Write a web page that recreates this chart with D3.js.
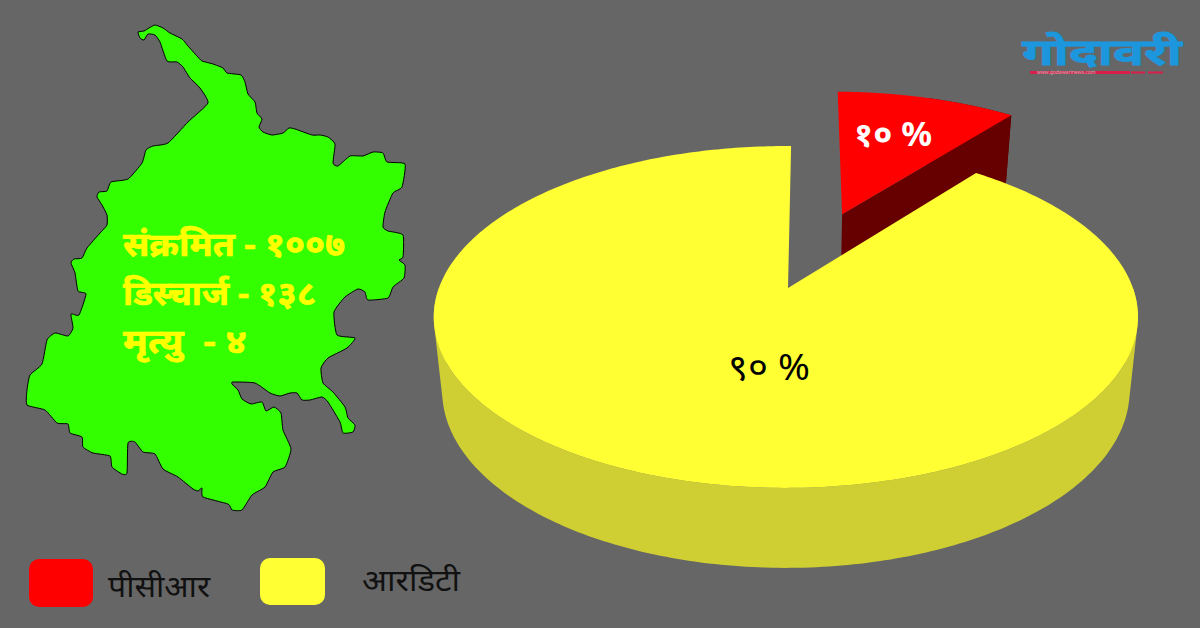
<!DOCTYPE html>
<html><head><meta charset="utf-8">
<script src="https://cdnjs.cloudflare.com/ajax/libs/d3/7.8.5/d3.min.js"></script>
<style>html,body{margin:0;padding:0;background:#666}svg{display:block}
text{font-family:"Noto Sans","Noto Sans Devanagari","Lohit Devanagari",sans-serif}</style>
</head><body><svg id="c" width="1200" height="628"></svg>
<script>
const categories = ["पीसीआर","आरडिटी"];
const shares = [10.4, 89.6];
const shareLabels = ["१० %","९० %"];
const statLines = ["संक्रमित - १००७","डिस्चार्ज - १३८","मृत्यु  - ४"];
const statWidths = [222,193,124];
const logoName = "गोदावरी";
const logoUrl = "www.godawarinews.com";
const topColors = ["#ff0000","#ffff33"];
const sideColors = ["#660000","#cfcf33"];
const districtOutline = [[138,32],[144,31],[149,28],[155,25],[163,28],[170,33],[182,39],[188,46],[197,56],[202,61],[213,64],[223,68],[227,73],[241,75],[245,82],[248,94],[255,102],[257,113],[262,119],[259,127],[263,132],[272,135],[283,133],[289,128],[295,129],[312,135],[320,135],[328,137],[335,144],[333,163],[338,166],[350,156],[363,156],[373,152],[383,153],[387,162],[405,164],[402,187],[393,193],[385,212],[383,227],[388,231],[403,235],[403,257],[399,260],[405,265],[404,278],[393,287],[388,298],[368,300],[365,292],[358,289],[345,297],[334,312],[337,335],[355,338],[347,348],[328,358],[321,368],[323,383],[333,392],[345,407],[348,418],[355,425],[353,432],[343,433],[340,422],[328,402],[322,397],[310,400],[302,400],[297,393],[290,393],[280,396],[270,393],[255,383],[233,382],[232,384],[238,390],[242,399],[251,404],[262,402],[266,411],[274,407],[281,413],[283,430],[291,449],[285,467],[273,472],[265,487],[252,495],[242,510],[232,510],[228,504],[203,497],[202,488],[198,491],[193,489],[178,477],[163,469],[155,454],[143,452],[135,442],[128,443],[127,473],[122,474],[112,467],[110,456],[93,453],[83,447],[82,437],[70,433],[68,424],[57,423],[45,410],[27,405],[27,390],[30,375],[42,364],[47,340],[55,333],[68,336],[73,328],[71,314],[79,315],[86,294],[78,291],[75,273],[71,263],[74,259],[82,258],[87,248],[100,233],[107,225],[107,215],[102,205],[97,197],[99,192],[107,191],[111,182],[128,179],[142,163],[146,150],[153,146],[168,143],[188,122],[208,103],[200,88],[190,78],[183,67],[177,62],[167,61],[160,42],[155,35],[148,34],[144,40],[140,38]];

const svg = d3.select("#c");
svg.append("rect").attr("width",1200).attr("height",628).attr("fill","#666666");

// map
svg.append("path").attr("d", d3.line().curve(d3.curveCardinalClosed.tension(0.5))(districtOutline))
  .attr("fill","#33ff00").attr("stroke","#000").attr("stroke-width",1);
svg.selectAll("text.stat").data(statLines).join("text").attr("class","stat")
  .attr("x",123).attr("y",(d,i)=>[256,305,353][i])
  .attr("font-size",33).attr("font-weight",700).attr("fill","#ffff00")
  .attr("stroke","#ffff00").attr("stroke-width",0.6)
  .attr("textLength",(d,i)=>statWidths[i]).attr("lengthAdjust","spacingAndGlyphs")
  .style("white-space","pre").text(d=>d);

// perspective pie
const cx=788, cy=288, A=347, B=166, P=0.1695, Q=0.006, DEPTH0=73.2, DEPTH1=0.034, SHRINK=0.976;
const project=(ang,r,ox,oy,low)=>{
  const X=r*Math.sin(ang)+ox, Y=r*Math.cos(ang)+oy, w=1+P*Y+Q*X;
  const sy=cy-B*Y/w;
  return low ? [cx+SHRINK*A*X/w, sy+DEPTH0+DEPTH1*(sy-cy)] : [cx+A*X/w, sy];
};
const rot=0.6*Math.PI/180;
const arcs=d3.pie().sort(null).startAngle(rot).endAngle(rot+2*Math.PI)(shares);
const explode=0.51;
const line=d3.line();
const N=360;
const steps=(a,b)=>d3.range(0,N+1).map(i=>a+(b-a)*i/N);
const drawSlice=(a,i,off,cutFace)=>{
  const mid=(a.startAngle+a.endAngle)/2;
  const ox=off*Math.sin(mid), oy=off*Math.cos(mid);
  const angs=steps(a.startAngle,a.endAngle);
  const topRim=angs.map(t=>project(t,1,ox,oy,false));
  const lowRim=angs.map(t=>project(t,1,ox,oy,true));
  // outer wall as one path of quads, so the straight silhouette joins both rims
  const quads=d3.range(N).filter(k=>cutFace?k>=N/2:topRim[k][1]>cy).map(k=>{
    const q=[topRim[k],topRim[k+1],lowRim[k+1],lowRim[k]];
    return d3.polygonArea(q)<0?q:q.slice().reverse();
  });
  svg.append("path").attr("d",quads.map(q=>line(q)+"Z").join("")).attr("fill",sideColors[i]);
  const c0=project(0,0,ox,oy,false), c1=project(0,0,ox,oy,true);
  if(cutFace){
    svg.append("path").attr("d",line([c0,topRim[N],lowRim[N],c1])+"Z").attr("fill",sideColors[i]);
  }
  svg.append("path").attr("d",line([c0].concat(topRim))+"Z").attr("fill",topColors[i]);
};
// red wedge is behind the yellow one
drawSlice(arcs[0],0,explode,true);
drawSlice(arcs[1],1,0,false);

svg.append("text").attr("x",854).attr("y",146).attr("font-size",34).attr("font-weight",700).attr("fill","#fff")
  .attr("textLength",78).attr("lengthAdjust","spacingAndGlyphs").text(shareLabels[0]);
svg.append("text").attr("x",728).attr("y",380).attr("font-size",36).attr("fill","#000")
  .attr("textLength",82).attr("lengthAdjust","spacingAndGlyphs").text(shareLabels[1]);

// legend
const legendX=[29,260], legendY=[559,558], legendW=[64,65], legendH=[48,47];
const legendTextX=[108,362], legendTextY=[597,591], legendTextW=[102,98];
categories.forEach((c,i)=>{
  svg.append("rect").attr("x",legendX[i]).attr("y",legendY[i]).attr("width",legendW[i]).attr("height",legendH[i]).attr("rx",10).attr("fill",topColors[i]);
  svg.append("text").attr("x",legendTextX[i]).attr("y",legendTextY[i]).attr("font-size",31).attr("fill","#111")
    .attr("textLength",legendTextW[i]).attr("lengthAdjust","spacingAndGlyphs").text(c);
});

// logo
svg.append("text").attr("x",1022).attr("y",65).attr("font-size",36).attr("font-weight",700).attr("fill","#1c96dc")
  .attr("stroke","#1c96dc").attr("stroke-width",0.8)
  .attr("textLength",160).attr("lengthAdjust","spacingAndGlyphs").text(logoName);
svg.append("rect").attr("x",1030).attr("y",71).attr("width",100).attr("height",3).attr("fill","#d81e4a");
svg.append("rect").attr("x",1131).attr("y",71.5).attr("width",14).attr("height",2).attr("fill","#d81e4a");
svg.append("rect").attr("x",1148).attr("y",71.5).attr("width",15).attr("height",2).attr("fill","#d81e4a");
svg.append("text").attr("x",1037).attr("y",74).attr("font-size",5).attr("fill","#bbb").text(logoUrl);
</script></body></html>
